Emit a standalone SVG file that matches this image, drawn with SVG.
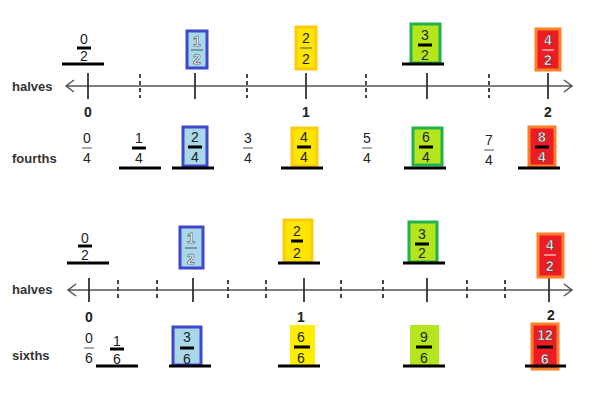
<svg xmlns="http://www.w3.org/2000/svg" width="608" height="407" viewBox="0 0 608 407">
<style>
text{font-family:"Liberation Sans",Arial,sans-serif;fill:#222}
.lbl{font-size:13px;font-weight:bold;fill:#333}
.n{font-size:14px;font-weight:bold;text-anchor:middle}
.f{font-size:14px;text-anchor:middle}
.w{fill:#fff;font-weight:bold}
.axis{stroke:#555;stroke-width:1.5;fill:none}
.t{stroke:#333;stroke-width:1.8}
.d{stroke:#333;stroke-width:1.8;stroke-dasharray:4,3}
.u{stroke:#000;stroke-width:3}
.bar{stroke:#000;stroke-width:3}
.thin{stroke:#555;stroke-width:1}
.blue{fill:#a8d8ea;stroke:#3f48cc;stroke-width:3}
.yel{fill:#ffe600;stroke:#ffc90e;stroke-width:3}
.grn{fill:#b5e61d;stroke:#22b14c;stroke-width:3}
.red{fill:#ed1c24;stroke:#ff7f27;stroke-width:3}
.yelf{fill:#ffee00}
.grnf{fill:#b5e61d}
</style>
<g id="connectors">
<path class="axis" d="M66 86H572M74 80L66 86L74 92M564 80L572 86L564 92"/>
<path class="t" d="M88 73V99M195 73V99M306 73V99M427 73V99M548 73V99"/>
<path class="d" d="M140 74V98M247 74V98M366 74V98M489 74V98"/>
<path class="axis" d="M68 290H572M76 284L68 290L76 296M564 284L572 290L564 296"/>
<path class="t" d="M89 278V302M193 278V302M304 278V302M427 278V302M549 278V302"/>
<path class="d" d="M118 280V300M157 280V300M228 280V300M266 280V300M341 280V300M383 280V300M467 280V300M505 280V300"/>
</g>
<g id="labels">
<text class="lbl" x="12" y="91">halves</text>
<text class="lbl" x="12" y="163">fourths</text>
<text class="lbl" x="12" y="294">halves</text>
<text class="lbl" x="12" y="360">sixths</text>
<text class="n" x="88" y="117">0</text><text class="n" x="306" y="117">1</text><text class="n" x="548" y="117">2</text>
<text class="n" x="89" y="322">0</text><text class="n" x="301" y="322">1</text><text class="n" x="551" y="320">2</text>
</g>
<g id="top-halves">
<g id="h0"><text class="f" x="84" y="44">0</text><line class="bar" x1="77" y1="48" x2="91" y2="48"/><text class="f" x="84" y="61">2</text><line class="u" x1="62" y1="64" x2="104" y2="64"/></g>
<g id="h1"><rect class="blue" x="187" y="31" width="20" height="37"/><text class="f w" x="197" y="46" style="fill:#fff;stroke:#333;stroke-width:.5">1</text><line class="thin" x1="191" y1="50" x2="203" y2="50"/><text class="f w" x="197" y="64" style="fill:#fff;stroke:#333;stroke-width:.5">2</text></g>
<g id="h2"><rect class="yel" x="296" y="27" width="20" height="42"/><text class="f" x="306" y="43">2</text><line class="thin" x1="300" y1="48" x2="312" y2="48"/><text class="f" x="306" y="64">2</text></g>
<g id="h3"><rect class="grn" x="411" y="24" width="29" height="39"/><text class="f" x="425" y="40">3</text><line class="bar" x1="418" y1="45" x2="432" y2="45"/><text class="f" x="425" y="60">2</text><line class="u" x1="402" y1="64" x2="444" y2="64"/></g>
<g id="h4"><rect class="red" x="536" y="29" width="24" height="41"/><text class="f w" x="548" y="45" style="stroke:#333;stroke-width:.5">4</text><line class="thin" x1="542" y1="50" x2="554" y2="50" style="stroke:#fff"/><text class="f w" x="548" y="65" style="stroke:#333;stroke-width:.5">2</text></g>
</g>
<g id="fourths">
<g id="q0"><text class="f" x="87" y="143">0</text><line class="thin" x1="82" y1="148" x2="92" y2="148"/><text class="f" x="87" y="163">4</text></g>
<g id="q1"><text class="f" x="139" y="143">1</text><line class="bar" x1="132" y1="148" x2="146" y2="148"/><text class="f" x="139" y="163">4</text><line class="u" x1="119" y1="168" x2="161" y2="168"/></g>
<g id="q2"><rect class="blue" x="183" y="127" width="24" height="39"/><text class="f" x="195" y="142">2</text><line class="bar" x1="188" y1="147" x2="202" y2="147"/><text class="f" x="195" y="162">4</text><line class="u" x1="172" y1="168" x2="214" y2="168"/></g>
<g id="q3"><text class="f" x="248" y="143">3</text><line class="thin" x1="243" y1="148" x2="253" y2="148"/><text class="f" x="248" y="163">4</text></g>
<g id="q4"><rect class="yel" x="292" y="128" width="25" height="38"/><text class="f" x="304" y="142">4</text><line class="bar" x1="297" y1="147" x2="311" y2="147"/><text class="f" x="304" y="162">4</text><line class="u" x1="281" y1="168" x2="323" y2="168"/></g>
<g id="q5"><text class="f" x="367" y="143">5</text><line class="thin" x1="362" y1="148" x2="372" y2="148"/><text class="f" x="367" y="163">4</text></g>
<g id="q6"><rect class="grn" x="413" y="128" width="29" height="37"/><text class="f" x="426" y="142">6</text><line class="bar" x1="419" y1="147" x2="433" y2="147"/><text class="f" x="426" y="162">4</text><line class="u" x1="404" y1="168" x2="446" y2="168"/></g>
<g id="q7"><text class="f" x="489" y="145">7</text><line class="thin" x1="484" y1="150" x2="494" y2="150"/><text class="f" x="489" y="165">4</text></g>
<g id="q8"><rect class="red" x="529" y="127" width="26" height="39"/><text class="f w" x="542" y="142" style="stroke:#333;stroke-width:.5">8</text><line class="bar" x1="535" y1="147" x2="549" y2="147"/><text class="f w" x="542" y="162" style="stroke:#333;stroke-width:.5">4</text><line class="u" x1="518" y1="168" x2="560" y2="168"/></g>
</g>
<g id="bottom-halves">
<g id="b0"><text class="f" x="85" y="243">0</text><line class="bar" x1="78" y1="246" x2="92" y2="246"/><text class="f" x="85" y="260">2</text><line class="u" x1="67" y1="263" x2="109" y2="263"/></g>
<g id="b1"><rect class="blue" x="180" y="227" width="23" height="41"/><text class="f w" x="191" y="243" style="stroke:#333;stroke-width:.5">1</text><line class="thin" x1="185" y1="248" x2="197" y2="248"/><text class="f w" x="191" y="264" style="stroke:#333;stroke-width:.5">2</text></g>
<g id="b2"><rect class="yel" x="284" y="220" width="28" height="42"/><text class="f" x="297" y="236">2</text><line class="bar" x1="291" y1="241" x2="303" y2="241"/><text class="f" x="297" y="258">2</text><line class="u" x1="278" y1="263" x2="320" y2="263"/></g>
<g id="b3"><rect class="grn" x="409" y="222" width="28" height="40"/><text class="f" x="422" y="239">3</text><line class="bar" x1="415" y1="244" x2="429" y2="244"/><text class="f" x="422" y="258">2</text><line class="u" x1="403" y1="263" x2="445" y2="263"/></g>
<g id="b4"><rect class="red" x="538" y="234" width="25" height="43"/><text class="f w" x="550" y="250" style="stroke:#333;stroke-width:.5">4</text><line class="thin" x1="544" y1="255" x2="556" y2="255" style="stroke:#fff"/><text class="f w" x="550" y="271" style="stroke:#333;stroke-width:.5">2</text></g>
</g>
<g id="sixths">
<g id="s0"><text class="f" x="89" y="343">0</text><line class="thin" x1="84" y1="348" x2="94" y2="348"/><text class="f" x="89" y="363">6</text></g>
<g id="s1"><text class="f" x="117" y="346">1</text><line class="bar" x1="110" y1="347" x2="124" y2="347" transform="translate(0,2)"/><text class="f" x="117" y="364">6</text><line class="u" x1="96" y1="366" x2="138" y2="366"/></g>
<g id="s3"><rect class="blue" x="173" y="327" width="28" height="38"/><text class="f" x="187" y="342">3</text><line class="bar" x1="180" y1="348" x2="194" y2="348"/><text class="f" x="187" y="364">6</text><line class="u" x1="169" y1="366" x2="211" y2="366"/></g>
<g id="s6"><rect class="yelf" x="290" y="325" width="25" height="41"/><text class="f" x="301" y="342">6</text><line class="bar" x1="294" y1="347" x2="310" y2="347"/><text class="f" x="301" y="363">6</text><line class="u" x1="278" y1="366" x2="320" y2="366"/></g>
<g id="s9"><rect class="grnf" x="410" y="325" width="29" height="41"/><text class="f" x="424" y="342">9</text><line class="bar" x1="416" y1="347" x2="432" y2="347"/><text class="f" x="424" y="363">6</text><line class="u" x1="403" y1="366" x2="445" y2="366"/></g>
<g id="s12"><rect class="red" x="532" y="324" width="26" height="45"/><text class="f w" x="545" y="340" style="stroke:#333;stroke-width:.5">12</text><line class="bar" x1="537" y1="347" x2="553" y2="347"/><text class="f w" x="545" y="364" style="stroke:#333;stroke-width:.5">6</text><line class="u" x1="525" y1="366" x2="566" y2="366"/></g>
</g>
</svg>
